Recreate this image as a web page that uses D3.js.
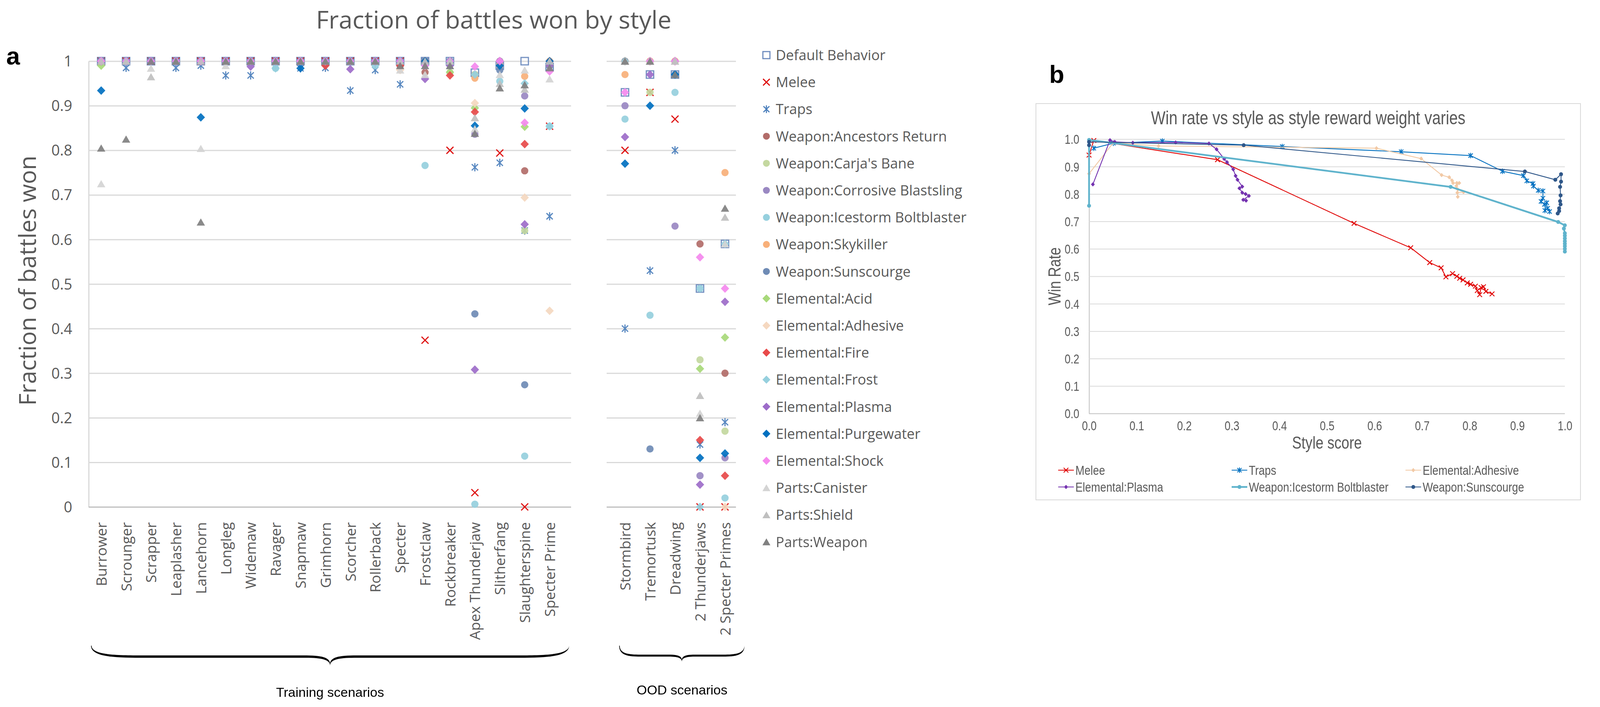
<!DOCTYPE html>
<html><head><meta charset="utf-8">
<script src="https://cdn.jsdelivr.net/npm/d3@7"></script>
<style>
html,body{margin:0;padding:0;background:#fff;}
svg{display:block;}
</style></head>
<body>
<svg id="chart" width="4173" height="1809"></svg>
<script>
// ---------- Panel a data ----------
const trainingCategories = ["Burrower","Scrounger","Scrapper","Leaplasher","Lancehorn","Longleg","Widemaw","Ravager","Snapmaw","Grimhorn","Scorcher","Rollerback","Specter","Frostclaw","Rockbreaker","Apex Thunderjaw","Slitherfang","Slaughterspine","Specter Prime"];
const oodCategories = ["Stormbird","Tremortusk","Dreadwing","2 Thunderjaws","2 Specter Primes"];
const yTicksA = [0,0.1,0.2,0.3,0.4,0.5,0.6,0.7,0.8,0.9,1];
const seriesNames = ["Default Behavior","Melee","Traps","Weapon:Ancestors Return","Weapon:Carja's Bane","Weapon:Corrosive Blastsling","Weapon:Icestorm Boltblaster","Weapon:Skykiller","Weapon:Sunscourge","Elemental:Acid","Elemental:Adhesive","Elemental:Fire","Elemental:Frost","Elemental:Plasma","Elemental:Purgewater","Elemental:Shock","Parts:Canister","Parts:Shield","Parts:Weapon"];
// values: 19 training scenarios followed by 5 OOD scenarios
const defaultBehavior = [1,1,1,1,1,1,1,1,1,1,1,1,1,1,1,0.974,0.99,1,0.987, 0.93,0.97,0.97,0.49,0.59];
const melee          = [1,1,1,1,1,1,1,1,1,1,1,1,1,0.374,0.80,0.032,0.794,0.0,0.854, 0.80,0.93,0.87,0.0,0.0];
const traps          = [1,0.985,1,0.985,0.99,0.968,0.968,0.99,0.984,0.985,0.934,0.98,0.948,1,0.99,0.762,0.772,0.62,0.652, 0.40,0.53,0.80,0.14,0.19];
const ancestorsReturn= [1,1,1,1,1,1,1,1,1,1,1,1,0.99,0.975,1,0.97,1,0.754,0.99, 1,1,1,0.59,0.30];
const carjasBane     = [1,1,1,1,1,1,1,1,1,1,1,1,1,1,0.975,0.97,1,0.62,0.99, 1,0.93,1,0.33,0.17];
const corrosive      = [1,1,1,1,1,1,1,1,1,1,1,1,1,1,1,0.836,1,0.922,0.99, 0.90,1,0.63,0.07,0.11];
const icestorm       = [1,1,1,1,1,1,1,0.984,1,1,1,0.99,1,0.766,1,0.006,0.955,0.114,0.854, 0.87,0.43,0.93,0.49,0.02];
const skykiller      = [1,1,1,1,1,1,1,1,1,1,1,1,1,1,1,0.962,0.99,0.966,1, 0.97,1,1,null,0.75];
const sunscourge     = [1,1,1,1,1,1,1,1,1,1,1,1,1,1,1,0.433,0.98,0.274,0.99, 1,0.13,0.97,null,null];
const acid           = [0.99,1,1,1,1,1,1,1,1,1,1,1,1,1,0.975,0.895,1,0.853,0.99, 1,1,1,0.31,0.38];
const adhesive       = [1,1,1,1,1,1,1,1,1,1,1,1,0.98,1,1,0.906,1,0.694,0.44, 1,1,1,null,0.0];
const fire           = [1,1,1,1,1,1,1,1,1,0.99,1,1,0.99,1,0.968,0.886,1,0.814,1, 1,1,1,0.15,0.07];
const frost          = [1,1,1,1,1,1,1,0.984,1,1,1,1,1,0.99,1,0.97,1,0.95,0.854, 1,1,1,0.0,0.59];
const plasma         = [1,1,1,1,1,1,0.988,1,1,1,0.982,1,1,0.96,0.99,0.308,1,0.634,0.99, 0.83,0.97,1,0.05,0.46];
const purgewater     = [0.934,1,1,1,0.874,1,1,1,0.984,1,1,1,1,1,1,0.855,0.99,0.894,1, 0.77,0.90,0.97,0.11,0.12];
const shock          = [1,1,1,1,1,1,1,1,1,1,1,1,1,0.99,1,0.988,1,0.862,0.977, 0.93,1,1,0.56,0.49];
const canister       = [0.725,1,0.984,1,0.804,0.99,1,1,1,1,1,1,0.98,0.97,1,0.848,0.97,0.98,0.96, 1,1,1,0.21,0.59];
const shield         = [1,1,0.965,1,1,1,1,1,1,1,1,1,1,1,1,0.873,0.95,0.937,1, 1,1,1,0.25,0.65];
const partsWeapon    = [0.805,0.825,1,1,0.639,1,1,1,1,1,1,1,0.99,0.99,0.99,0.838,0.94,0.947,0.985, 1,1,0.97,0.20,0.67];
const seriesValues = [defaultBehavior,melee,traps,ancestorsReturn,carjasBane,corrosive,icestorm,skykiller,sunscourge,acid,adhesive,fire,frost,plasma,purgewater,shock,canister,shield,partsWeapon];
const seriesShapes = ["square","x","star","circle","circle","circle","circle","circle","circle","diamond","diamond","diamond","diamond","diamond","diamond","diamond","triangle","triangle","triangle"];
const seriesColors = ["#6a89bd","#dd0000","#4a7ebb","#b26c69","#c4d8a0","#9a88c2","#96d0de","#f8b07a","#6f8bb5","#a8d97a","#f5d8c0","#e84a4a","#96d0de","#9d6cc9","#0070c0","#f589ee","#d4d4d4","#bfbfbf","#808080"];

// ---------- Panel b data ----------
const yTicksB = [0,0.1,0.2,0.3,0.4,0.5,0.6,0.7,0.8,0.9,1.0];
const xTicksB = [0,0.1,0.2,0.3,0.4,0.5,0.6,0.7,0.8,0.9,1.0];
const meleeX = [0.0,0.010,0.27,0.557,0.676,0.716,0.740,0.750,0.764,0.773,0.779,0.786,0.795,0.802,0.812,0.816,0.821,0.824,0.829,0.834,0.847];
const meleeY = [0.942,0.995,0.925,0.693,0.604,0.550,0.531,0.498,0.510,0.500,0.493,0.487,0.476,0.471,0.464,0.448,0.433,0.459,0.462,0.445,0.436];
const trapsX = [0.010,0.051,0.154,0.406,0.656,0.802,0.869,0.913,0.920,0.933,0.934,0.944,0.954,0.954,0.950,0.957,0.962,0.958,0.964,0.968];
const trapsY = [0.967,0.985,0.993,0.973,0.954,0.940,0.883,0.867,0.848,0.838,0.829,0.813,0.811,0.785,0.773,0.762,0.768,0.740,0.748,0.736];
const adhesiveX = [0.0,0.051,0.146,0.604,0.698,0.741,0.757,0.763,0.765,0.773,0.778,0.772,0.775,0.787,0.774,0.775];
const adhesiveY = [0.874,0.987,0.975,0.967,0.929,0.869,0.861,0.849,0.840,0.840,0.840,0.829,0.817,0.807,0.805,0.790];
const plasmaX = [0.008,0.044,0.054,0.092,0.182,0.252,0.268,0.284,0.290,0.303,0.308,0.312,0.322,0.316,0.322,0.329,0.336,0.324,0.330];
const plasmaY = [0.835,0.996,0.990,0.987,0.988,0.984,0.963,0.928,0.916,0.890,0.866,0.852,0.827,0.821,0.805,0.800,0.793,0.779,0.776];
const icestormX = [0.0,0.0,0.760,0.986,1.0,0.998,1.0,1.0,1.0,1.0,1.0,1.0,1.0,1.0];
const icestormY = [0.757,0.997,0.826,0.698,0.686,0.674,0.657,0.648,0.638,0.628,0.619,0.610,0.600,0.590];
const sunscourgeX = [0.0,0.0,0.325,0.916,0.980,0.992,0.992,0.990,0.991,0.990,0.991,0.988,0.988,0.985];
const sunscourgeY = [0.978,0.990,0.978,0.882,0.852,0.872,0.845,0.826,0.795,0.774,0.762,0.748,0.738,0.729];
const bNames = ["Melee","Traps","Elemental:Adhesive","Elemental:Plasma","Weapon:Icestorm Boltblaster","Weapon:Sunscourge"];
const bXs = [meleeX,trapsX,adhesiveX,plasmaX,icestormX,sunscourgeX];
const bYs = [meleeY,trapsY,adhesiveY,plasmaY,icestormY,sunscourgeY];
const bColors = ["#e00000","#0070c0","#f2c9a5","#7432b0","#5fb3cc","#2f5789"];
const bShapes = ["x","star","diamond","diamond","circle","circle"];

// ---------- drawing ----------
const svg = d3.select("#chart");
svg.append("rect").attr("width",4173).attr("height",1809).attr("fill","#fff");
const GREY_TXT = "#595959";
const FONT_A = "'Open Sans', 'Noto Sans', sans-serif";
const FONT_B = "'Liberation Sans', Arial, sans-serif";
const NARROW = 0.82;
function narrow(sel) {
  sel.each(function(){
    const w = this.getComputedTextLength();
    d3.select(this).attr("textLength", w*NARROW).attr("lengthAdjust","spacingAndGlyphs");
  });
  return sel;
}

function drawMarker(sel, shape, color, k) {
  if (shape === "square") {
    sel.append("rect").attr("x",-9.5*k).attr("y",-9.5*k).attr("width",19*k).attr("height",19*k)
      .attr("fill","none").attr("stroke",color).attr("stroke-width",3*k);
  } else if (shape === "x") {
    sel.append("path").attr("d",`M${-9*k},${-9*k}L${9*k},${9*k}M${9*k},${-9*k}L${-9*k},${9*k}`)
      .attr("stroke",color).attr("stroke-width",3*k).attr("fill","none");
  } else if (shape === "star") {
    sel.append("path").attr("d",`M${-8*k},${-8*k}L${8*k},${8*k}M${8*k},${-8*k}L${-8*k},${8*k}M0,${-10.5*k}L0,${10.5*k}`)
      .attr("stroke",color).attr("stroke-width",3*k).attr("fill","none");
  } else if (shape === "circle") {
    sel.append("circle").attr("r",9.3*k).attr("fill",color);
  } else if (shape === "diamond") {
    sel.append("path").attr("d",`M0,${-11*k}L${10.7*k},0L0,${11*k}L${-10.7*k},0Z`).attr("fill",color);
  } else if (shape === "triangle") {
    sel.append("path").attr("d",`M0,${-9.5*k}L${10.7*k},${9*k}L${-10.7*k},${9*k}Z`).attr("fill",color);
  }
}

// ---- Panel a ----
const yA = d3.scaleLinear().domain([0,1]).range([1297,156.5]);
const xTrain = d3.scalePoint().domain(trainingCategories).range([259,1407]);
const xOOD = d3.scalePoint().domain(oodCategories).range([1600,1856]);
const trainLeft = 227, trainRight = 1462, oodLeft = 1553, oodRight = 1884;

svg.append("text").attr("x",1264).attr("y",73).attr("text-anchor","middle")
  .attr("font-family",FONT_A).attr("font-size",63).attr("fill",GREY_TXT).text("Fraction of battles won by style");
svg.append("text").attr("x",16).attr("y",165).attr("font-family","'Liberation Sans', Arial, sans-serif")
  .attr("font-weight","bold").attr("font-size",63).attr("fill","#000").text("a");

const gAxA = svg.append("g").attr("transform",`translate(${trainLeft},0)`)
  .call(d3.axisLeft(yA).tickValues(yTicksA).tickFormat(d => d===0?"0":d===1?"1":d3.format(".1f")(d))
    .tickSize(-(trainRight-trainLeft)).tickSizeOuter(0).tickPadding(42));
gAxA.select(".domain").attr("stroke","#d9d9d9").attr("stroke-width",3);
gAxA.selectAll(".tick line").attr("stroke",d => d===0?"#bfbfbf":"#d9d9d9").attr("stroke-width",3);
gAxA.selectAll(".tick text").attr("font-family",FONT_A).attr("font-size",38).attr("fill",GREY_TXT).attr("dy","0.35em");

const gAxO = svg.append("g").attr("transform",`translate(${oodLeft},0)`)
  .call(d3.axisLeft(yA).tickValues(yTicksA).tickFormat("").tickSize(-(oodRight-oodLeft)).tickSizeOuter(0));
gAxO.select(".domain").remove();
gAxO.selectAll(".tick line").attr("stroke",d => d===0?"#bfbfbf":"#d9d9d9").attr("stroke-width",3);

svg.append("text").attr("transform","translate(92,718) rotate(-90)").attr("text-anchor","middle")
  .attr("font-family",FONT_A).attr("font-size",60).attr("fill",GREY_TXT).text("Fraction of battles won");

function catAxis(scale) {
  const g = svg.append("g").attr("transform","translate(0,1297)")
    .call(d3.axisBottom(scale).tickSize(0).tickPadding(0));
  g.select(".domain").remove();
  g.selectAll(".tick text").attr("y",0).attr("x",0).attr("dy","0.36em")
    .attr("transform","translate(0,39) rotate(-90)").attr("text-anchor","end")
    .attr("font-family",FONT_A).attr("font-size",37).attr("fill",GREY_TXT);
}
catAxis(xTrain); catAxis(xOOD);

const nT = trainingCategories.length;
seriesValues.forEach((vals, si) => {
  const pts = vals.map((v,i) => ({v, i})).filter(d => d.v !== null);
  const g = svg.append("g").attr("opacity",0.92);
  g.selectAll("g").data(pts).join("g")
    .attr("transform", d => {
      const x = d.i < nT ? xTrain(trainingCategories[d.i]) : xOOD(oodCategories[d.i-nT]);
      return `translate(${x},${yA(d.v)})`;
    })
    .each(function(){ drawMarker(d3.select(this), seriesShapes[si], seriesColors[si], 1); });
});

const legA = svg.append("g");
seriesNames.forEach((name, i) => {
  const y = 141 + i*69.2;
  const g = legA.append("g").attr("transform",`translate(1962,${y})`);
  drawMarker(g, seriesShapes[i], seriesColors[i], 0.95);
  legA.append("text").attr("x",1986).attr("y",y).attr("dy","0.36em")
    .attr("font-family",FONT_A).attr("font-size",36).attr("fill",GREY_TXT).text(name);
});

function bracePath(x1, x2, y0, h, th, t, a, a2) {
  const xm = (x1+x2)/2, hb = h+th;
  return `M${x1},${y0}` +
    `C${x1},${hb} ${x1+a},${hb} ${x1+2*a},${hb}` +
    `L${xm-2*a2},${hb}` +
    `C${xm-a2},${hb} ${xm},${hb} ${xm},${t}` +
    `C${xm},${hb} ${xm+a2},${hb} ${xm+2*a2},${hb}` +
    `L${x2-2*a},${hb}` +
    `C${x2-a},${hb} ${x2},${hb} ${x2},${y0}` +
    `C${x2-1.5},${h} ${x2-a},${h} ${x2-2*a},${h}` +
    `L${xm+2*a2},${h}` +
    `C${xm+a2},${h} ${xm},${h} ${xm},${t-4}` +
    `C${xm},${h} ${xm-a2},${h} ${xm-2*a2},${h}` +
    `L${x1+2*a},${h}` +
    `C${x1+a},${h} ${x1+1.5},${h} ${x1+1.5},${y0}Z`;
}
svg.append("path").attr("d",bracePath(233,1457,1652,1677,6,1703,70,38)).attr("fill","#000");
svg.append("path").attr("d",bracePath(1585,1906,1652,1675,5,1693,30,20)).attr("fill","#000");
svg.append("text").attr("x",845).attr("y",1783).attr("text-anchor","middle")
  .attr("font-family","'Liberation Sans', Arial, sans-serif").attr("font-size",34).attr("fill","#000").text("Training scenarios");
svg.append("text").attr("x",1746).attr("y",1777).attr("text-anchor","middle")
  .attr("font-family","'Liberation Sans', Arial, sans-serif").attr("font-size",34).attr("fill","#000").text("OOD scenarios");

// ---- Panel b ----
const xB = d3.scaleLinear().domain([0,1]).range([2788,4006]);
const yB = d3.scaleLinear().domain([0,1]).range([1058,356]);
svg.append("text").attr("x",2686).attr("y",212).attr("font-family","'Liberation Sans', Arial, sans-serif")
  .attr("font-weight","bold").attr("font-size",63).attr("fill","#000").text("b");
svg.append("rect").attr("x",2652).attr("y",265).attr("width",1394).attr("height",1014)
  .attr("fill","none").attr("stroke","#d9d9d9").attr("stroke-width",2);
narrow(svg.append("text").attr("x",3349).attr("y",318).attr("text-anchor","middle")
  .attr("font-family",FONT_B).attr("font-size",48).attr("fill",GREY_TXT).text("Win rate vs style as style reward weight varies"));

const gyB = svg.append("g").attr("transform","translate(2788,0)")
  .call(d3.axisLeft(yB).tickValues(yTicksB).tickFormat(d3.format(".1f")).tickSize(-(4006-2788)).tickSizeOuter(0).tickPadding(25));
gyB.select(".domain").attr("stroke","#bfbfbf").attr("stroke-width",2);
gyB.selectAll(".tick line").attr("stroke",d => d===0?"#bfbfbf":"#d9d9d9").attr("stroke-width",2);
narrow(gyB.selectAll(".tick text").attr("font-family",FONT_B).attr("font-size",33).attr("fill",GREY_TXT).attr("dy","0.36em"));
const gxB = svg.append("g").attr("transform","translate(0,1058)")
  .call(d3.axisBottom(xB).tickValues(xTicksB).tickFormat(d3.format(".1f")).tickSize(0).tickPadding(20));
gxB.select(".domain").remove();
narrow(gxB.selectAll(".tick text").attr("font-family",FONT_B).attr("font-size",33).attr("fill",GREY_TXT));

narrow(svg.append("text").attr("x",3397).attr("y",1148).attr("text-anchor","middle")
  .attr("font-family",FONT_B).attr("font-size",44).attr("fill",GREY_TXT).text("Style score"));
narrow(svg.append("text").attr("transform","translate(2715,707) rotate(-90)").attr("text-anchor","middle")
  .attr("font-family",FONT_B).attr("font-size",44).attr("fill",GREY_TXT).text("Win Rate"));

function drawBMarker(sel, shape, color) {
  if (shape === "x") sel.append("path").attr("d","M-6,-6L6,6M6,-6L-6,6").attr("stroke",color).attr("stroke-width",2.2).attr("fill","none");
  else if (shape === "star") sel.append("path").attr("d","M-5.5,-5.5L5.5,5.5M5.5,-5.5L-5.5,5.5M0,-7L0,7").attr("stroke",color).attr("stroke-width",2.2).attr("fill","none");
  else if (shape === "diamond") sel.append("path").attr("d","M0,-5.5L5,0L0,5.5L-5,0Z").attr("fill",color);
  else if (shape === "circle") sel.append("circle").attr("r",5).attr("fill",color);
}
const lineGen = d3.line().x(d => xB(d[0])).y(d => yB(d[1]));
bNames.forEach((name, si) => {
  const pts = bXs[si].map((x,i) => [x, bYs[si][i]]);
  svg.append("path").datum(pts).attr("d",lineGen).attr("fill","none").attr("stroke",bColors[si])
    .attr("stroke-width", si===4 ? 4.5 : 2.2).attr("stroke-linejoin","round");
  svg.append("g").selectAll("g").data(pts).join("g")
    .attr("transform", d => `translate(${xB(d[0])},${yB(d[1])})`)
    .each(function(){ drawBMarker(d3.select(this), bShapes[si], bColors[si]); });
});

const legPos = [[2709,1203],[3153,1203],[3598,1203],[2709,1246],[3153,1246],[3598,1246]];
bNames.forEach((name, i) => {
  const [lx, ly] = legPos[i];
  svg.append("line").attr("x1",lx).attr("x2",lx+40).attr("y1",ly).attr("y2",ly)
    .attr("stroke",bColors[i]).attr("stroke-width", i===4 ? 4.5 : 2.2);
  drawBMarker(svg.append("g").attr("transform",`translate(${lx+20},${ly})`), bShapes[i], bColors[i]);
  narrow(svg.append("text").attr("x",lx+44).attr("y",ly).attr("dy","0.36em")
    .attr("font-family",FONT_B).attr("font-size",34).attr("fill",GREY_TXT).text(name));
});
</script>
</body></html>
